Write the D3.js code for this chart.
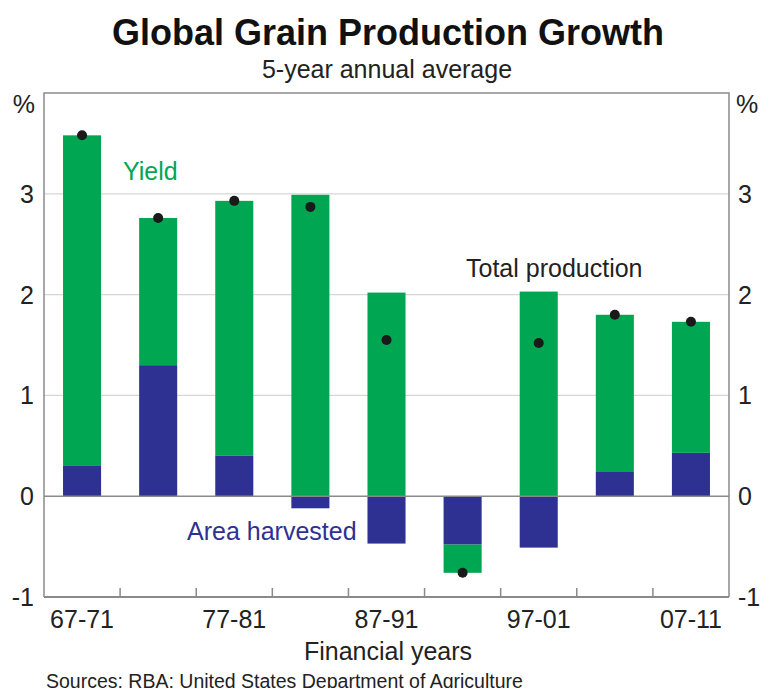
<!DOCTYPE html>
<html>
<head>
<meta charset="utf-8">
<script src="https://cdn.jsdelivr.net/npm/d3@7"></script>
<style>
  html, body { margin: 0; padding: 0; background: #fff; }
  svg { display: block; font-family: Arial, "Liberation Sans", Helvetica, sans-serif; }
</style>
</head>
<body>
<svg id="chart" width="762" height="688"></svg>
<script>
// Five-year periods (financial years)
const periods = ["67-71", "72-76", "77-81", "82-86", "87-91", "92-96", "97-01", "02-06", "07-11"];
// Contribution of yield growth, % per year
const yieldGrowth = [3.28, 1.46, 2.53, 2.99, 2.02, -0.28, 2.03, 1.56, 1.30];
// Contribution of area harvested, % per year
const areaGrowth = [0.30, 1.30, 0.40, -0.12, -0.47, -0.48, -0.51, 0.24, 0.43];
// Total production growth, % per year
const totalGrowth = [3.58, 2.76, 2.93, 2.87, 1.55, -0.76, 1.52, 1.80, 1.73];
// Axis ticks
const yTicks = [-1, 0, 1, 2, 3];
const gridTicks = [1, 2, 3];
const xLabelled = ["67-71", "77-81", "87-91", "97-01", "07-11"];

const GREEN = "#00a651";
const BLUE = "#2e3192";
const TEXT = "#222";
const FS = 25;

const svg = d3.select("#chart");
const plot = { left: 44, right: 729, top: 93, bottom: 597 };

const x = d3.scaleBand()
  .domain(periods)
  .range([plot.left, plot.right])
  .paddingInner(0.5)
  .paddingOuter(0.25);

const y = d3.scaleLinear()
  .domain([-1, 4])
  .range([plot.bottom, plot.top]);

// Gridlines
svg.append("g")
  .selectAll("line")
  .data(gridTicks)
  .join("line")
  .attr("x1", plot.left).attr("x2", plot.right)
  .attr("y1", d => y(d)).attr("y2", d => y(d))
  .attr("stroke", "#d6d6d6").attr("stroke-width", 1.2);

// Stacked bars (area nearest zero, yield stacked beyond it)
const rows = periods.map((p, i) => ({ period: p, area: areaGrowth[i], yield: yieldGrowth[i] }));
const stack = d3.stack().keys(["area", "yield"]).offset(d3.stackOffsetDiverging);
const series = stack(rows);
const colour = { area: BLUE, yield: GREEN };

svg.append("g")
  .selectAll("g")
  .data(series)
  .join("g")
  .attr("fill", d => colour[d.key])
  .selectAll("rect")
  .data(d => d)
  .join("rect")
  .attr("x", d => x(d.data.period))
  .attr("width", x.bandwidth())
  .attr("y", d => y(Math.max(d[0], d[1])))
  .attr("height", d => Math.abs(y(d[0]) - y(d[1])));

// Zero line
svg.append("line")
  .attr("x1", plot.left).attr("x2", plot.right)
  .attr("y1", y(0)).attr("y2", y(0))
  .attr("stroke", "#8a8a8a").attr("stroke-width", 1.5);

// Total production dots
svg.append("g")
  .selectAll("circle")
  .data(periods.map((p, i) => ({ period: p, v: totalGrowth[i] })))
  .join("circle")
  .attr("cx", d => x(d.period) + x.bandwidth() / 2)
  .attr("cy", d => y(d.v))
  .attr("r", 5)
  .attr("fill", "#1a1a1a");

// Frame
svg.append("path")
  .attr("d", `M${plot.left},${plot.bottom}V${plot.top}H${plot.right}V${plot.bottom}`)
  .attr("fill", "none").attr("stroke", "#8a8a8a").attr("stroke-width", 1.5);

// Bottom axis with inward ticks at band boundaries
const step = x.step();
const boundaries = periods.slice(1).map(p => x(p) - (step - x.bandwidth()) / 2);
svg.append("line")
  .attr("x1", plot.left).attr("x2", plot.right)
  .attr("y1", plot.bottom).attr("y2", plot.bottom)
  .attr("stroke", "#8a8a8a").attr("stroke-width", 1.8);
svg.append("g")
  .selectAll("line")
  .data(boundaries)
  .join("line")
  .attr("x1", d => d).attr("x2", d => d)
  .attr("y1", plot.bottom).attr("y2", plot.bottom - 9)
  .attr("stroke", "#8a8a8a").attr("stroke-width", 1.5);

// X labels
svg.append("g")
  .selectAll("text")
  .data(xLabelled)
  .join("text")
  .attr("x", d => x(d) + x.bandwidth() / 2)
  .attr("y", 628)
  .attr("text-anchor", "middle")
  .attr("font-size", FS)
  .attr("fill", TEXT)
  .text(d => d);

// Y labels, left and right
const yl = svg.append("g").attr("font-size", FS).attr("fill", TEXT);
yl.selectAll("text.l")
  .data(yTicks).join("text").attr("class", "l")
  .attr("x", 34).attr("y", d => y(d)).attr("dy", "0.36em")
  .attr("text-anchor", "end").text(d => d);
yl.selectAll("text.r")
  .data(yTicks).join("text").attr("class", "r")
  .attr("x", 738).attr("y", d => y(d)).attr("dy", "0.36em")
  .attr("text-anchor", "start").text(d => d);
yl.append("text").attr("x", 35).attr("y", 113).attr("text-anchor", "end").text("%");
yl.append("text").attr("x", 736).attr("y", 113).attr("text-anchor", "start").text("%");

// Titles
svg.append("text")
  .attr("x", 388).attr("y", 45)
  .attr("text-anchor", "middle")
  .attr("font-size", 36).attr("font-weight", "bold")
  .attr("fill", "#111")
  .text("Global Grain Production Growth");
svg.append("text")
  .attr("x", 387).attr("y", 78)
  .attr("text-anchor", "middle")
  .attr("font-size", FS)
  .attr("fill", TEXT)
  .text("5-year annual average");

// Series annotations
svg.append("text").attr("x", 123).attr("y", 180).attr("font-size", FS).attr("fill", GREEN).text("Yield");
svg.append("text").attr("x", 466).attr("y", 277).attr("font-size", FS).attr("fill", TEXT).text("Total production");
svg.append("text").attr("x", 187).attr("y", 540).attr("font-size", FS).attr("fill", BLUE).text("Area harvested");

// Axis title and sources
svg.append("text")
  .attr("x", 388).attr("y", 660)
  .attr("text-anchor", "middle")
  .attr("font-size", FS).attr("fill", TEXT)
  .text("Financial years");
svg.append("text")
  .attr("x", 46).attr("y", 688)
  .attr("font-size", 19.5).attr("fill", TEXT)
  .text("Sources: RBA; United States Department of Agriculture");
</script>
</body>
</html>
